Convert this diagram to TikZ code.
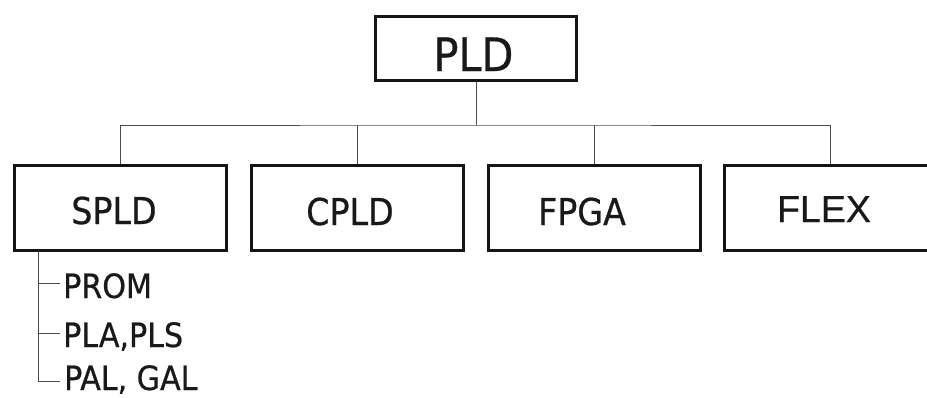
\documentclass[tikz,border=0pt]{standalone}
\usepackage{fontspec}
\setmainfont{DejaVu Sans Condensed}[FakeBold=0.6]
\newfontfamily\flexfont{Liberation Sans}[FakeBold=0.6]
\begin{document}
\begin{tikzpicture}[x=1pt,y=-1pt,
  box/.style={draw=black!92,line width=3pt,minimum width=212pt,minimum height=85pt,inner sep=0pt},
  topbox/.style={box,minimum width=201pt,minimum height=64pt},
  lbl/.style={inner sep=0pt,anchor=base,text=black!90},
  item/.style={inner sep=0pt,anchor=base west,text=black!90,font=\fontsize{33.5}{33.5}\selectfont},
  link/.style={draw=black!70,line width=1pt}]
\useasboundingbox (0,0) rectangle (927,397);
\clip (0,0) rectangle (927,397);

% boxes
\node[topbox] (pld)  at (476,48.5) {};
\node[box]    (spld) at (120.5,207.7) {};
\node[box]    (cpld) at (357.5,207.7) {};
\node[box]    (fpga) at (594,207.7) {};
\node[box]    (flex) at (830.5,207.7) {};

% labels
\node[lbl,font=\fontsize{46}{46}\selectfont] at (473.5,71) {PLD};
\node[lbl,font=\fontsize{37}{37}\selectfont] at (114,224) {SPLD};
\node[lbl,font=\fontsize{37}{37}\selectfont] at (350,225) {CPLD};
\node[lbl,font=\fontsize{37}{37}\selectfont] at (582,225) {FPGA};
\node[lbl,font=\flexfont\fontsize{37.5}{37.5}\selectfont] at (824,222) {FLEX};

% tree connectors
\coordinate (bus) at (476,125);
\draw[link] (pld.south) -- (bus);
\draw[link] (spld.north) |- (bus) -| (flex.north);
\draw[link] (cpld.north) -- (cpld.north |- bus);
\draw[link] (fpga.north) -- (fpga.north |- bus);

% SPLD family list
\node[item] (prom) at (63,298) {PROM};
\node[item] (pla)  at (63,347) {PLA,PLS};
\node[item] (pal)  at (64,390) {PAL, GAL};
\coordinate (trunk) at (38,251);
\coordinate (t1) at (60,283);
\coordinate (t2) at (60,333);
\coordinate (t3) at (60,381);
\draw[link] (trunk) |- (t3);
\draw[link] (trunk |- t1) -- (t1);
\draw[link] (trunk |- t2) -- (t2);
\end{tikzpicture}
\end{document}
